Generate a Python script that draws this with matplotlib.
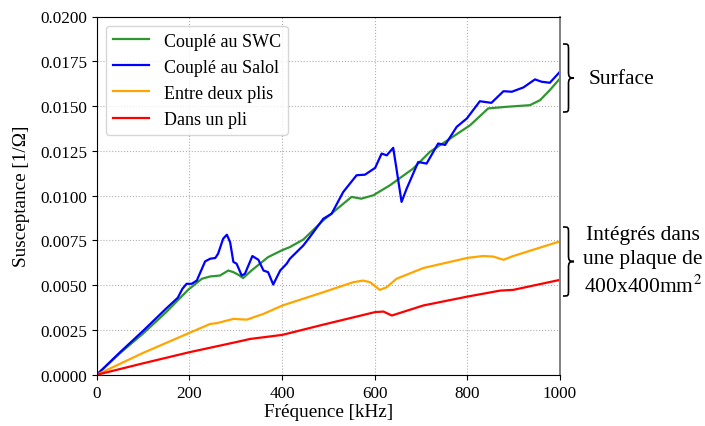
import matplotlib
matplotlib.use("Agg")
import matplotlib.pyplot as plt
from matplotlib.path import Path
from matplotlib.patches import PathPatch
from matplotlib.ticker import FormatStrFormatter

plt.rcParams['font.family'] = ['Liberation Serif', 'DejaVu Serif']

# ---- data (frequency in kHz, susceptance in 1/Ohm) ----
blue_f = [0, 50, 100, 150, 175, 185, 194, 205, 216, 234, 245, 256, 262, 273, 281, 288,
          295, 302, 313, 320, 336, 349, 360, 370, 381, 396, 410, 417, 446, 460, 489, 507,
          532, 561, 579, 601, 615, 626, 640, 647, 658, 669, 694, 712, 737, 752, 777, 799,
          827, 852, 878, 896, 921, 946, 960, 978, 1000]
blue_b = [0.0, 0.00125, 0.00245, 0.0037, 0.0043, 0.0048, 0.00508, 0.00508, 0.00526, 0.00633,
          0.00648, 0.00652, 0.00676, 0.0076, 0.00782, 0.0074, 0.0063, 0.0062, 0.00554, 0.00564,
          0.00663, 0.00642, 0.00582, 0.00573, 0.00504, 0.00582, 0.0062, 0.00648, 0.00722,
          0.00769, 0.00871, 0.00899, 0.0102, 0.01114, 0.01117, 0.01155, 0.01235, 0.01225,
          0.01267, 0.01151, 0.00965, 0.01039, 0.01188, 0.01179, 0.01291, 0.01283, 0.01384,
          0.01431, 0.01527, 0.01518, 0.01583, 0.0158, 0.01604, 0.01649, 0.01636,
          0.0163, 0.01692]

green_f = [0, 50, 100, 150, 198, 227, 245, 266, 284, 295, 306, 316, 334, 370, 399, 417, 446,
           489, 511, 550, 571, 597, 633, 683, 719, 763, 806, 845, 885, 935, 957, 978, 1000]
green_b = [0.0, 0.0012, 0.0023, 0.0035, 0.00476, 0.00536, 0.00549, 0.00554, 0.00582, 0.00573,
           0.00558, 0.0054, 0.00582, 0.00657, 0.00694, 0.00713, 0.00755, 0.00862, 0.00909,
           0.00993, 0.00983, 0.01002, 0.01058, 0.01151, 0.01244, 0.01319, 0.01393,
           0.01487, 0.01496, 0.01505, 0.01533, 0.01589, 0.01654]

orange_f = [0, 100, 200, 245, 259, 295, 324, 360, 401, 489, 554, 575, 590, 611, 626, 647,
            705, 801, 834, 856, 878, 899, 1000]
orange_b = [0.0, 0.00122, 0.00234, 0.00284, 0.00288, 0.00312, 0.00308, 0.0034, 0.00387,
            0.00461, 0.00517, 0.00526, 0.00517, 0.00474, 0.00489, 0.00536, 0.00596, 0.00653,
            0.00663, 0.0066, 0.00642, 0.00663, 0.00745]

red_f = [0, 100, 200, 300, 331, 401, 489, 601, 619, 637, 705, 801, 871, 899, 1000]
red_b = [0.0, 0.00064, 0.00126, 0.00182, 0.002, 0.00223, 0.0028, 0.0035, 0.00353, 0.00331,
         0.00387, 0.00437, 0.0047, 0.00474, 0.0053]

labels = ["Couplé au SWC", "Couplé au Salol", "Entre deux plis", "Dans un pli"]
colors = ["#2e962e", "#0000ff", "#ffa500", "#ff0000"]

W, H = 705, 427
fig = plt.figure(figsize=(W / 100, H / 100), dpi=100)
ax = fig.add_axes([96.7 / W, 1 - 375.8 / H, (560 - 96.7) / W, (375.8 - 17.5) / H])

for f, b, lab, c in zip([green_f, blue_f, orange_f, red_f],
                        [green_b, blue_b, orange_b, red_b], labels, colors):
    ax.plot(f, b, color=c, lw=1.6, label=lab)

ax.set_xlim(0, 1000)
ax.set_ylim(0, 0.02)
ax.set_xticks([0, 200, 400, 600, 800, 1000])
ax.set_yticks([i * 0.0025 for i in range(9)])
ax.yaxis.set_major_formatter(FormatStrFormatter('%.4f'))
ax.tick_params(labelsize=12.3)
ax.grid(True, linestyle=':', color='#b0b0b0', lw=0.8)
ax.spines['right'].set_color('#808080')
ax.spines['right'].set_linewidth(1.4)
ax.set_xlabel("Fréquence [kHz]", fontsize=13.8, labelpad=2)
ax.set_ylabel("Susceptance [1/Ω]", fontsize=13.8, labelpad=7)
ax.legend(loc='upper left', fontsize=13, frameon=True, borderaxespad=0.5)


def brace(x0, ytop, ybot, w):
    # pixel coords with origin at top-left -> figure fraction
    def p(x, y):
        return (x / W, 1 - y / H)
    mid = (ytop + ybot) / 2
    r = 6
    xm = x0 + w * 0.5
    verts = [p(x0, ytop),
             p(xm, ytop), p(xm, ytop), p(xm, ytop + r),
             p(xm, mid - r),
             p(xm, mid - 1), p(xm + 1, mid), p(x0 + w, mid),
             p(xm + 1, mid), p(xm, mid + 1), p(xm, mid + r),
             p(xm, ybot - r),
             p(xm, ybot), p(xm, ybot), p(x0, ybot)]
    codes = [Path.MOVETO,
             Path.CURVE4, Path.CURVE4, Path.CURVE4,
             Path.LINETO,
             Path.CURVE4, Path.CURVE4, Path.CURVE4,
             Path.CURVE4, Path.CURVE4, Path.CURVE4,
             Path.LINETO,
             Path.CURVE4, Path.CURVE4, Path.CURVE4]
    fig.patches.append(PathPatch(Path(verts, codes), transform=fig.transFigure,
                                 fill=False, lw=1.2, color='black'))


brace(563, 45, 113, 11)
brace(563, 228, 297, 11)

fig.text(622 / W, 1 - 79 / H, "Surface", fontsize=15.5, ha='center', va='center')
fig.text(643 / W, 1 - 262 / H, "Intégrés dans\nune plaque de\n400x400mm$^2$",
         fontsize=15.5, ha='center', va='center', linespacing=1.35,
         math_fontfamily='stix')

fig.savefig("out.png", dpi=100)
